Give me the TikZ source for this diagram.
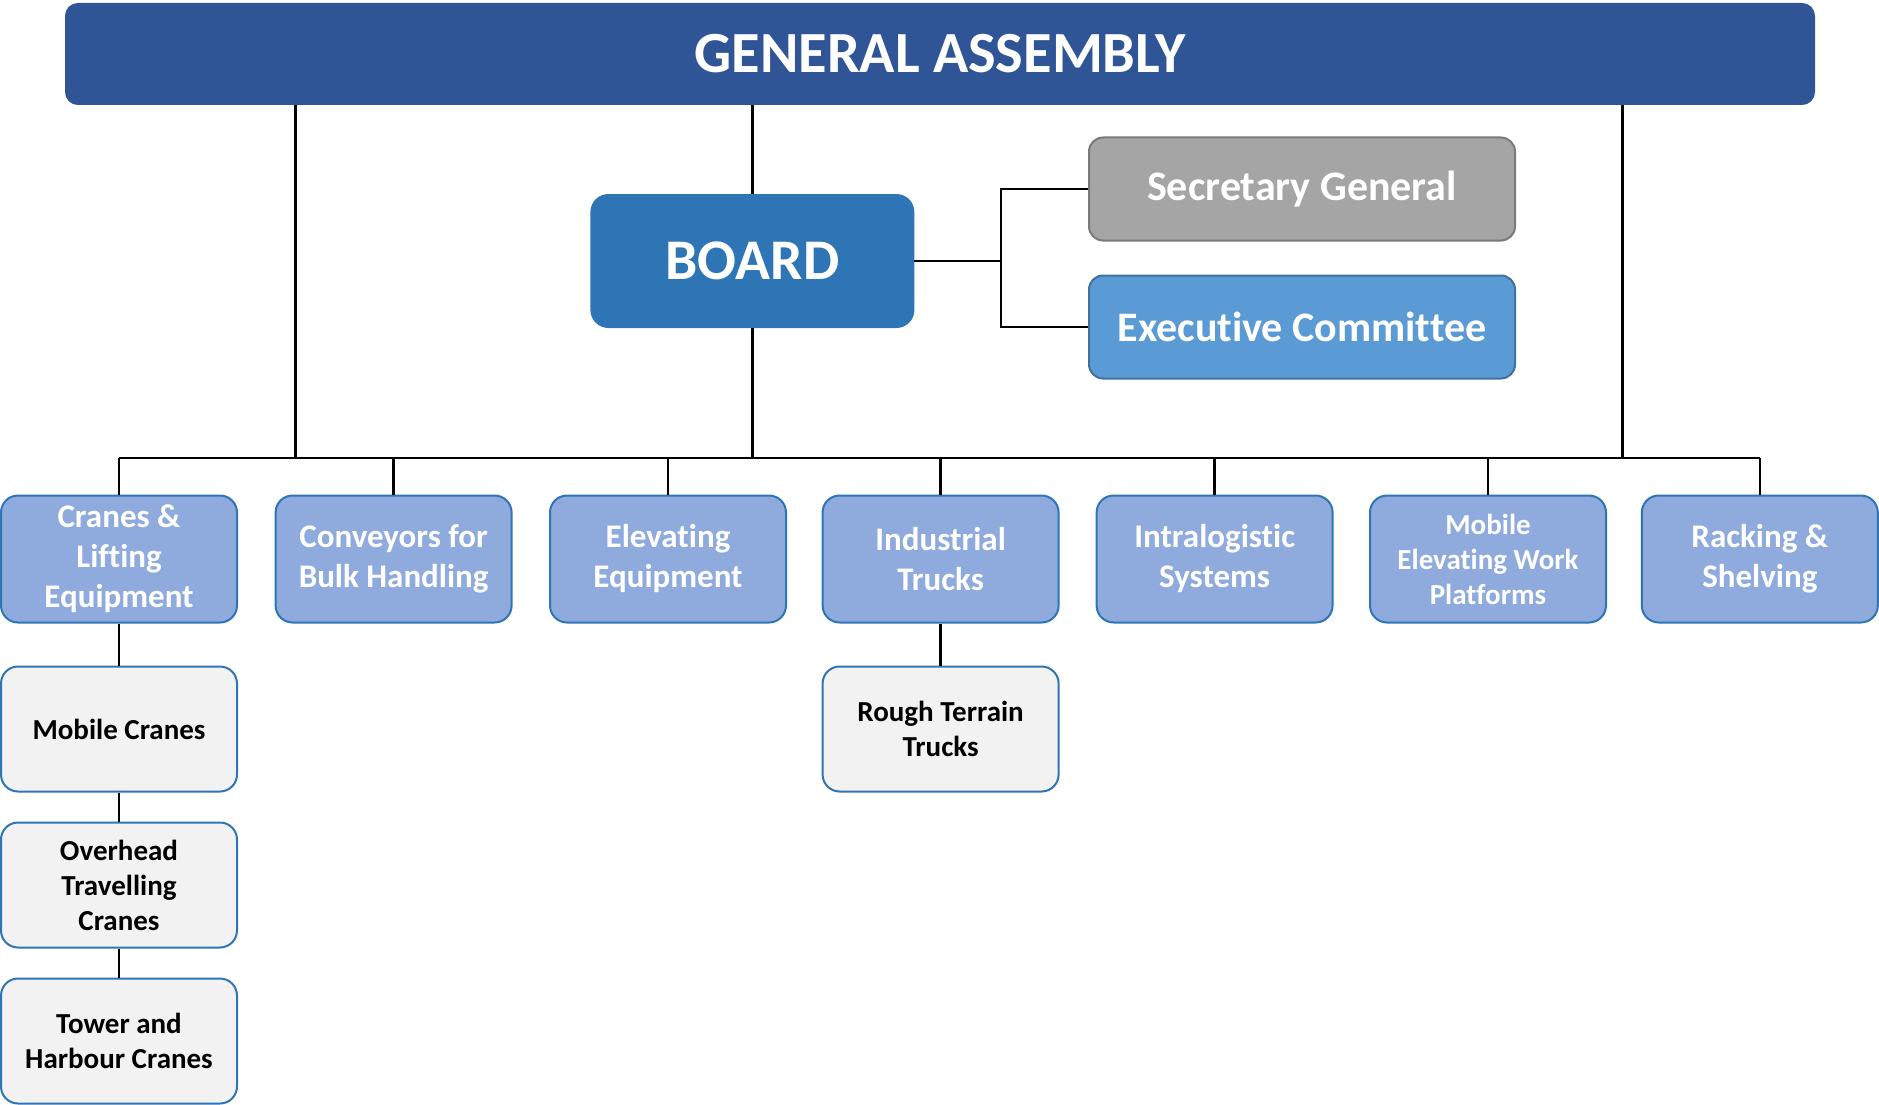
\documentclass[tikz,border=0pt]{standalone}
\usepackage{fontspec}
\setmainfont{Carlito}[Ligatures={NoCommon}]
\definecolor{gablue}{HTML}{2F5597}
\definecolor{boardblue}{HTML}{2E75B6}
\definecolor{secgray}{HTML}{A5A5A5}
\definecolor{secedge}{HTML}{7A7A7A}
\definecolor{execblue}{HTML}{5B9BD5}
\definecolor{execedge}{HTML}{41719C}
\definecolor{unitfill}{HTML}{8FAADC}
\definecolor{subfill}{HTML}{F2F2F2}
\begin{document}
\begin{tikzpicture}[x=1pt,y=-1pt,
    box/.style={rounded corners=17pt, line width=2pt, align=center, inner sep=0pt},
    unit/.style={box, draw=boardblue, fill=unitfill, text=white,
      minimum width=236pt, minimum height=127pt,
      font=\bfseries\fontsize{33}{40}\selectfont},
    sub/.style={box, draw=boardblue, fill=subfill, text=black,
      minimum width=236pt, minimum height=125pt,
      font=\bfseries\fontsize{29}{35}\selectfont},
    link/.style={line width=2.5pt}]
  \useasboundingbox (0,0) rectangle (1879,1105);

  % top of the tree
  \node[box, rounded corners=12pt, draw=gablue, fill=gablue, text=white,
    minimum width=1748pt, minimum height=100pt,
    font=\bfseries\fontsize{58.3}{60}\selectfont] (ga) at (940,54) {GENERAL ASSEMBLY};
  \node[box, draw=boardblue, fill=boardblue, text=white,
    minimum width=322pt, minimum height=132pt,
    font=\bfseries\fontsize{57.5}{60}\selectfont] (board) at (752.4,261) {BOARD};
  \node[box, rounded corners=14pt, draw=secedge, fill=secgray, text=white,
    minimum width=426pt, minimum height=103pt,
    font=\bfseries\fontsize{42}{44}\selectfont] (secgen) at (1302,189) {Secretary General};
  \node[box, rounded corners=14pt, draw=execedge, fill=execblue, text=white,
    minimum width=426pt, minimum height=103pt,
    font=\bfseries\fontsize{42}{44}\selectfont] (execom) at (1302,327) {Executive Committee};

  % sections
  \node[unit] (cranes) at (119,559) {Cranes \&\\Lifting\\Equipment};
  \node[unit] (conveyors) at (393.6,559) {Conveyors for\\Bulk Handling};
  \node[unit] (elevating) at (668,559) {Elevating\\Equipment};
  \node[unit] (trucks) at (940.6,559) {Industrial\\Trucks};
  \node[unit] (intralog) at (1214.6,559) {Intralogistic\\Systems};
  \node[unit, font=\bfseries\fontsize{29}{35}\selectfont] (mewp) at (1488,559)
    {Mobile\\Elevating Work\\Platforms};
  \node[unit] (racking) at (1759.8,559) {Racking \&\\Shelving};

  % product groups
  \node[sub] (mobile) at (119,729) {Mobile Cranes};
  \node[sub] (overhead) at (119,885) {Overhead\\Travelling\\Cranes};
  \node[sub] (tower) at (119,1041) {Tower and\\Harbour Cranes};
  \node[sub] (rough) at (940.6,729) {Rough Terrain\\Trucks};

  \coordinate (bus) at (0,458);
  \coordinate (dropL) at (295.6,458);
  \coordinate (dropR) at (1622.6,458);
  \coordinate (fork) at (1001,261);

  \begin{scope}[link]
    \draw (dropL |- ga.south) -- (dropL);
    \draw (dropR |- ga.south) -- (dropR);
    \draw (board.north |- ga.south) -- (board.north);
    \draw (board.south) -- (board.south |- bus);
    \draw (board.east) -- (fork);
    \draw (secgen.west) -- (secgen.west -| fork) -- (execom.west -| fork) -- (execom.west);
    \draw (cranes.north |- bus) -- (racking.north |- bus);
    \foreach \u in {cranes,conveyors,elevating,trucks,intralog,mewp,racking}
      \draw (\u.north |- bus) -- (\u.north);
    \draw (cranes) -- (mobile);
    \draw (mobile) -- (overhead);
    \draw (overhead) -- (tower);
    \draw (trucks) -- (rough);
  \end{scope}
\end{tikzpicture}
\end{document}
